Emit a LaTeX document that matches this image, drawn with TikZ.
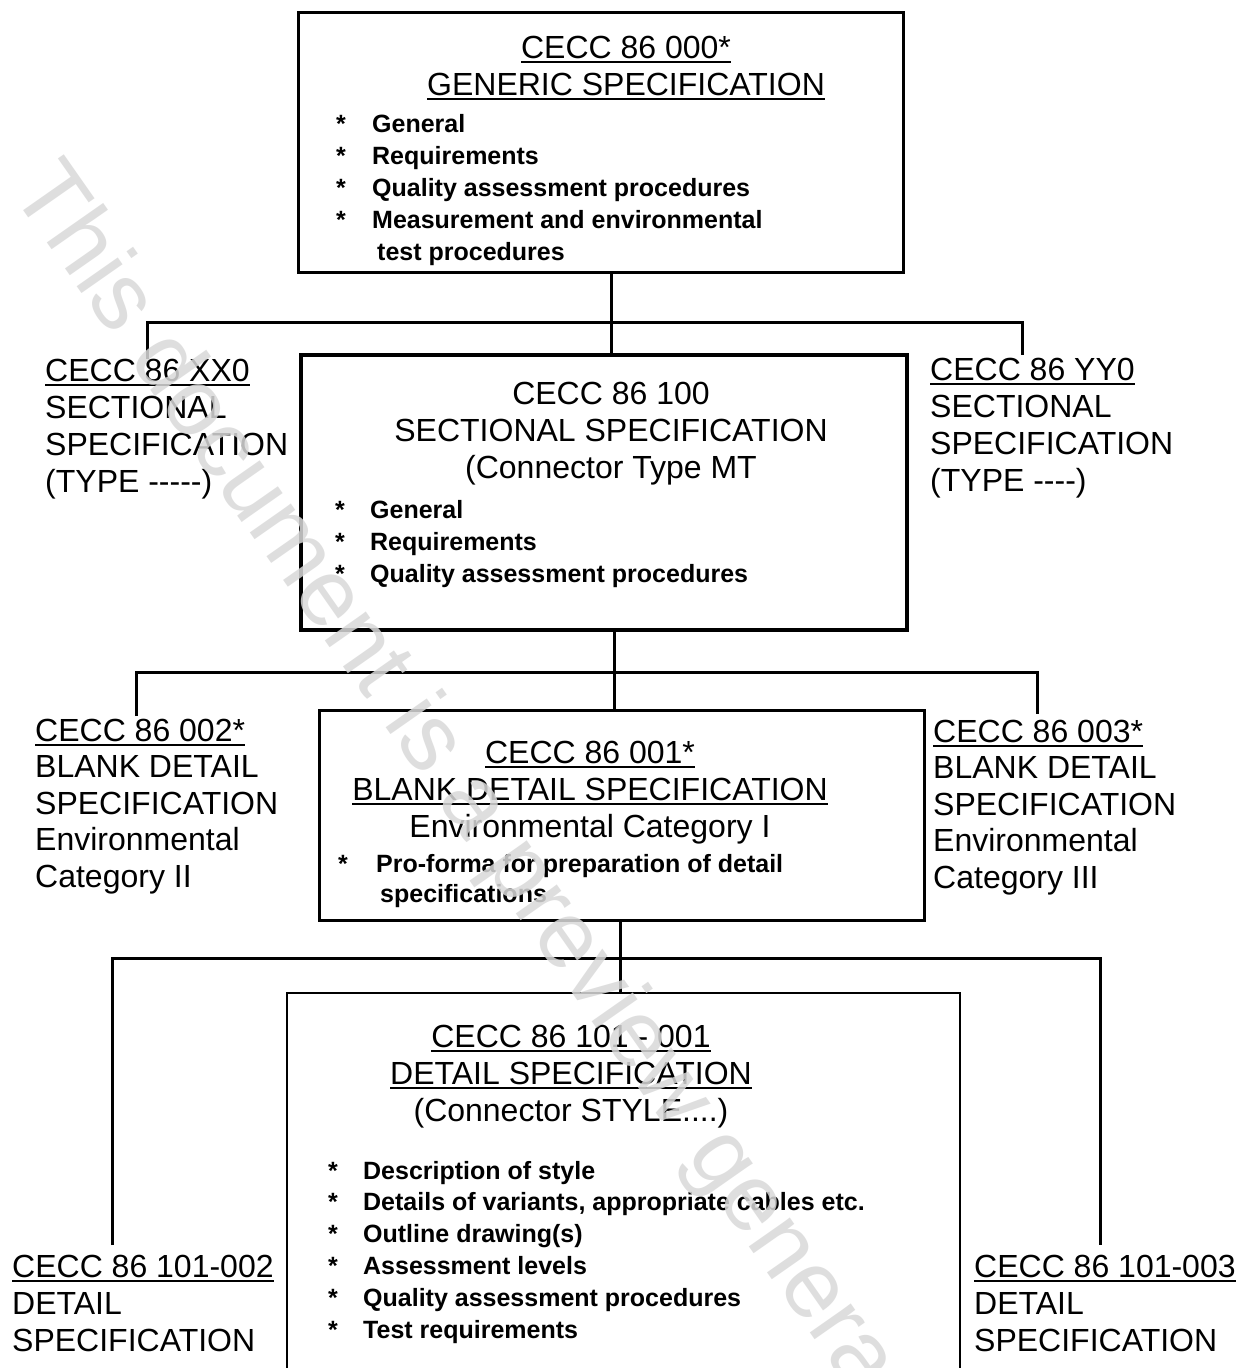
\documentclass[tikz,border=0pt]{standalone}
\usepackage{fontspec}
\setmainfont{Liberation Sans}
\newcommand\ulx[1]{\setbox0\hbox{#1}\rlap{\rule[-4.5pt]{\wd0}{2.2pt}}\box0}
\newcommand\bul[1][35pt]{\makebox[#1][l]{*}}
\tikzset{
  box/.style={draw, line width=3pt, inner sep=0pt},
  conn/.style={line width=3pt},
  head/.style={inner sep=0pt, font=\fontsize{32}{37}\selectfont, align=center, anchor=north},
  side/.style={inner sep=0pt, font=\fontsize{32}{37}\selectfont, align=left, anchor=north west},
  items/.style={inner sep=0pt, font=\fontsize{25}{32}\selectfont\bfseries, align=left, anchor=north west},
}
\begin{document}
\begin{tikzpicture}[x=1pt,y=-1pt]
\useasboundingbox (0,0) rectangle (1244,1368);
\clip (0,0) rectangle (1244,1368);
\fill[white] (0,0) rectangle (1244,1368);

% boxes
\node[box, minimum width=605pt, minimum height=260pt] (b1) at (600.5,142) {};
\node[box, line width=4.5pt, minimum width=606pt, minimum height=275pt] (b2) at (604,492.5) {};
\node[box, minimum width=605pt, minimum height=210pt] (b3) at (621.5,815) {};
\node[box, line width=2.6pt, minimum width=673pt, minimum height=420pt] (b4) at (623.5,1203) {};

% box 1 text
\node[head] (h1) at (626,32.6) {\strut\ulx{CECC 86 000*}\\\ulx{GENERIC SPECIFICATION}};
\node[items] (i1) at (336,109.6) {\strut\bul[36pt]General\\\bul[36pt]Requirements\\\bul[36pt]Quality assessment procedures\\\bul[36pt]Measurement and environmental\\\hspace*{41pt}test procedures};

% box 2 text
\node[head] (h2) at (611,378.6) {\strut CECC 86 100\\SECTIONAL SPECIFICATION\\(Connector Type MT};
\node[items] (i2) at (335,495.6) {\strut\bul General\\\bul Requirements\\\bul Quality assessment procedures};

% box 3 text
\node[head] (h3) at (590,737.6) {\strut\ulx{CECC 86 001*}\\\ulx{BLANK DETAIL SPECIFICATION}\\Environmental Category I};
\node[items, font=\fontsize{25}{30}\selectfont\bfseries] (i3) at (338,851) {\strut\bul[38pt]Pro-forma for preparation of detail\\\hspace*{42pt}specifications};

% box 4 text
\node[head] (h4) at (571,1021.6) {\strut\ulx{CECC 86 101 - 001}\\\ulx{DETAIL SPECIFICATION}\\(Connector STYLE....)};
\node[items, font=\fontsize{25}{31.8}\selectfont\bfseries] (i4) at (328,1156.6) {\strut\bul Description of style\\\bul Details of variants, appropriate cables etc.\\\bul Outline drawing(s)\\\bul Assessment levels\\\bul Quality assessment procedures\\\bul Test requirements};

% side labels
\node[side] (l1) at (45,355.6) {\strut\ulx{CECC 86 XX0}\\SECTIONAL\\SPECIFICATION\\(TYPE -{}-{}-{}-{}-)};
\node[side] (r1) at (930,354.6) {\strut\ulx{CECC 86 YY0}\\SECTIONAL\\SPECIFICATION\\(TYPE -{}-{}-{}-)};
\node[side, font=\fontsize{32}{36.5}\selectfont] (l2) at (35,715.6) {\strut\ulx{CECC 86 002*}\\BLANK DETAIL\\SPECIFICATION\\Environmental\\Category II};
\node[side, font=\fontsize{32}{36.5}\selectfont] (r2) at (933,716.6) {\strut\ulx{CECC 86 003*}\\BLANK DETAIL\\SPECIFICATION\\Environmental\\Category III};
\node[side] (l3) at (12,1251.6) {\strut\ulx{CECC 86 101-002}\\DETAIL\\SPECIFICATION};
\node[side] (r3) at (974,1251.6) {\strut\ulx{CECC 86 101-003}\\DETAIL\\SPECIFICATION};

% connectors
\coordinate (t1) at (611,322);
\coordinate (d1l) at (147,359);
\coordinate (d1r) at (1022,355);
\draw[conn] (t1 |- b1.south) -- (t1 |- b2.north);
\draw[conn] (d1l) |- (t1) -| (d1r);

\coordinate (t2) at (614,672);
\coordinate (d2l) at (136,716);
\coordinate (d2r) at (1037,714);
\draw[conn] (t2 |- b2.south) -- (t2 |- b3.north);
\draw[conn] (d2l) |- (t2) -| (d2r);

\coordinate (t3) at (620,958);
\coordinate (d3l) at (112,1245);
\coordinate (d3r) at (1100,1245);
\draw[conn] (t3 |- b3.south) -- (t3 |- b4.north);
\draw[conn] (d3l) |- (t3) -| (d3r);

% watermark
\node[rotate=-55, anchor=west, inner sep=0pt, font=\fontsize{95}{95}\selectfont, text=black!15, text opacity=0.85] (wm) at (30,176) {This document is a preview generated by EVS};
\end{tikzpicture}
\end{document}
